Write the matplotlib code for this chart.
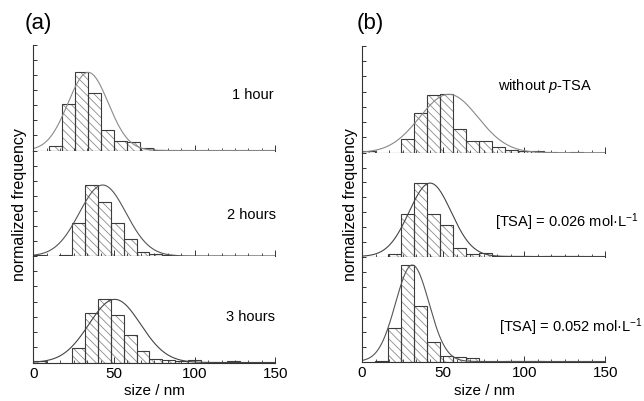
import numpy as np
import matplotlib
matplotlib.use('Agg')
import matplotlib.pyplot as plt
from matplotlib.ticker import AutoMinorLocator

plt.rcParams['font.family'] = ['Liberation Sans', 'DejaVu Sans']
plt.rcParams['mathtext.fontset'] = 'custom'
plt.rcParams['mathtext.rm'] = 'Liberation Sans'
plt.rcParams['mathtext.it'] = 'Liberation Sans:italic'
plt.rcParams['hatch.linewidth'] = 0.6

BIN = 8  # nm

# (a) reaction time series: first bin left edge, bar heights (arb. units)
start_1h = 10
freq_1h = [0.33, 3.04, 5.16, 3.78, 1.38, 0.6, 0.53, 0.18, 0.04]
start_2h = 0
freq_2h = [0.09, 0, 0.07, 2.22, 4.71, 3.6, 2.22, 1.15, 0.25, 0.12, 0.04, 0, 0.03, 0, 0.03]
start_3h = 0
freq_3h = [0.09, 0, 0, 0.96, 3.24, 4.15, 3.15, 1.84, 0.76, 0.26, 0.15, 0.09, 0.15, 0, 0, 0.1]

# (b) p-TSA series
start_none = 0
freq_none = [0.13, 0, 0, 0.88, 2.63, 3.76, 3.83, 1.53, 0.74, 0.74, 0.35, 0.18, 0.13, 0.09, 0.04, 0, 0.04]
start_026 = 16
freq_026 = [0.19, 2.88, 4.95, 2.88, 2.1, 0.59, 0.15, 0.25, 0.04, 0.03, 0.03, 0, 0.02, 0.02, 0.02]
start_052 = 8
freq_052 = [0.04, 2.21, 6.43, 3.7, 1.3, 0.37, 0.28, 0.23, 0, 0, 0.03, 0.03, 0.03]

# gaussian fits: (centre nm, sigma nm, peak)
fit_1h = (34, 12.5, 5.16)
fit_2h = (43, 14.5, 4.71)
fit_3h = (50.5, 16, 4.15)
fit_none = (53.5, 18, 3.83)
fit_026 = (42, 13, 4.95)
fit_052 = (31, 10.3, 6.43)

labels_a = ['1 hour', '2 hours', '3 hours']
labels_b = ['without $\\it{p}$-TSA', '[TSA] = 0.026 mol\u00b7L$^{-1}$', '[TSA] = 0.052 mol\u00b7L$^{-1}$']

W, H = 644, 401
fig = plt.figure(figsize=(W / 100, H / 100), dpi=100)


def px_axes(x0, x1, ytop, ybot):
    return fig.add_axes([x0 / W, 1 - ybot / H, (x1 - x0) / W, (ybot - ytop) / H])


def draw_hist(ax, start, heights, fit, curve_color, bottom=False):
    h = np.array(heights, dtype=float)
    lefts = start + BIN * np.arange(len(h))
    keep = h > 0
    ax.bar(lefts[keep], h[keep], width=BIN, align='edge', color='white',
           edgecolor='#8c8c8c', hatch='\\\\\\\\', linewidth=0)
    ax.bar(lefts[keep], h[keep], width=BIN, align='edge', fill=False,
           edgecolor='#3c3c3c', linewidth=0.8)
    xs = np.linspace(0, 150, 400)
    mu, sig, amp = fit
    ax.plot(xs, amp * np.exp(-(xs - mu) ** 2 / (2 * sig ** 2)), color=curve_color, lw=0.8)

    ax.set_xlim(0, 150)
    ax.set_ylim(0, 7)
    for s in ['top', 'right']:
        ax.spines[s].set_visible(False)
    for s in ['left', 'bottom']:
        ax.spines[s].set_color('#333333')
        ax.spines[s].set_linewidth(0.8)
    ax.set_yticks(np.arange(0, 8))
    ax.set_yticklabels([])
    ax.set_xticks([0, 50, 100, 150])
    ax.xaxis.set_minor_locator(AutoMinorLocator(6))
    ax.tick_params(which='major', direction='in', length=4, width=0.7, color='#333333')
    ax.tick_params(which='minor', direction='in', length=2.5, width=0.6, color='#333333')
    ax.tick_params(axis='y', length=3)
    if bottom:
        ax.tick_params(axis='x', labelsize=11, pad=3)
    else:
        ax.set_xticklabels([])


rows_a = [(44.5, 150.5), (150.5, 256), (256, 362.5)]
rows_b = [(46, 152.7), (152.7, 256.5), (256.5, 361.5)]

series_a = [(start_1h, freq_1h, fit_1h, '#8a8a8a'),
            (start_2h, freq_2h, fit_2h, '#555555'),
            (start_3h, freq_3h, fit_3h, '#444444')]
series_b = [(start_none, freq_none, fit_none, '#888888'),
            (start_026, freq_026, fit_026, '#444444'),
            (start_052, freq_052, fit_052, '#555555')]

for i, ((yt, yb), (st, fr, ft, cc)) in enumerate(zip(rows_a, series_a)):
    ax = px_axes(33.3, 275.3, yt, yb)
    draw_hist(ax, st, fr, ft, cc, bottom=(i == 2))
for i, ((yt, yb), (st, fr, ft, cc)) in enumerate(zip(rows_b, series_b)):
    ax = px_axes(362, 605.3, yt, yb)
    draw_hist(ax, st, fr, ft, cc, bottom=(i == 2))

# annotations
for txt, (x, y) in zip(labels_a, [(274, 95), (276, 215), (275, 317)]):
    fig.text(x / W, 1 - y / H, txt, ha='right', va='center', fontsize=10.5)
fig.text(592 / W, 1 - 86 / H, labels_b[0], ha='right', va='center', fontsize=10.5)
fig.text(495 / W, 1 - 222 / H, labels_b[1], ha='left', va='center', fontsize=10.5)
fig.text(499 / W, 1 - 327 / H, labels_b[2], ha='left', va='center', fontsize=10.5)

fig.text(25 / W, 1 - 23 / H, '(a)', ha='left', va='center', fontsize=16)
fig.text(357 / W, 1 - 23 / H, '(b)', ha='left', va='center', fontsize=16)

for x in [20, 350]:
    fig.text(x / W, 1 - 205 / H, 'normalized frequency', rotation=90,
             ha='center', va='center', fontsize=11.5)
for x in [154, 484]:
    fig.text(x / W, 1 - 391 / H, 'size / nm', ha='center', va='center', fontsize=11)

fig.savefig('out.png', dpi=100)
